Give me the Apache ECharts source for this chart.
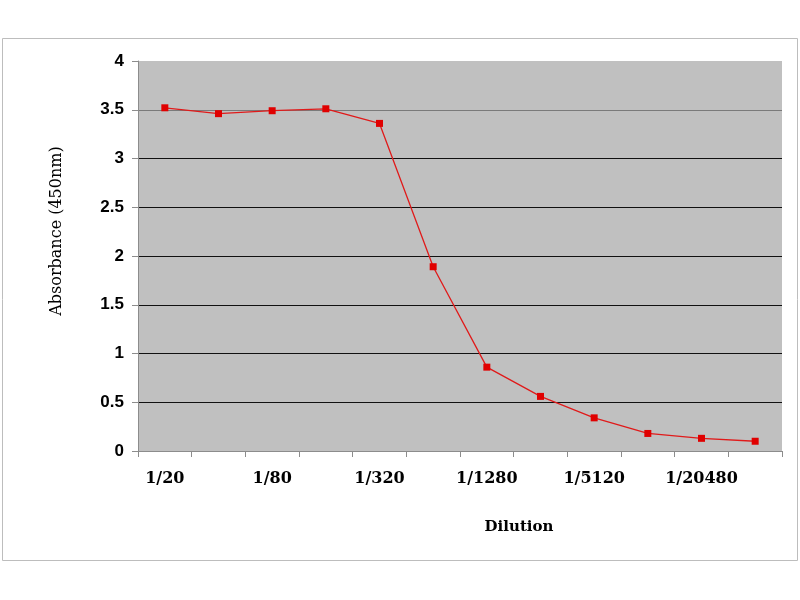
<!DOCTYPE html>
<html>
<head>
<meta charset="utf-8">
<script src="https://cdn.jsdelivr.net/npm/echarts@6/dist/echarts.min.js"></script>
<style>
  html, body { margin: 0; padding: 0; background: #fff; }
  #chart { width: 800px; height: 600px; }
</style>
</head>
<body>
<div id="chart"></div>
<script>
// dilution steps, two-fold
const dilutions = ['1/20', '1/40', '1/80', '1/160', '1/320', '1/640', '1/1280', '1/2560', '1/5120', '1/10240', '1/20480', '1/40960'];
// absorbance at 450nm
const absorbance = [3.52, 3.46, 3.49, 3.51, 3.36, 1.89, 0.86, 0.56, 0.34, 0.18, 0.13, 0.10];

const serif = 'DejaVu Serif';

const myChart = echarts.init(document.getElementById('chart'));

const option = {
    backgroundColor: '#ffffff',
    animation: false,
    grid: {
        left: 138,
        right: 18,
        top: 61,
        bottom: 149,
        show: true,
        backgroundColor: '#c0c0c0',
        borderWidth: 0
    },
    graphic: [
        {
            type: 'rect',
            shape: { x: 2.5, y: 38.5, width: 795, height: 522 },
            style: { fill: 'none', stroke: '#bdbdbd', lineWidth: 1 },
            z: -1
        },
        {
            type: 'text',
            x: 57,
            y: 231,
            rotation: Math.PI / 2,
            style: {
                text: 'Absorbance (450nm)',
                font: '16px "DejaVu Serif"',
                fill: '#000',
                align: 'center',
                verticalAlign: 'middle'
            }
        },
        {
            type: 'text',
            x: 519,
            y: 527,
            style: {
                text: 'Dilution',
                font: 'bold 15px "DejaVu Serif"',
                fill: '#000',
                align: 'center',
                verticalAlign: 'middle'
            }
        }
    ],
    xAxis: {
        type: 'category',
        data: dilutions,
        boundaryGap: true,
        axisLine: { lineStyle: { color: '#8c8c8c', width: 1 } },
        axisTick: { show: true, interval: 0, length: 6, lineStyle: { color: '#8c8c8c' } },
        axisLabel: {
            interval: 1,
            margin: 20,
            color: '#000',
            fontFamily: serif,
            fontWeight: 'bold',
            fontSize: 16
        },
        splitLine: { show: false }
    },
    yAxis: {
        type: 'value',
        min: 0,
        max: 4,
        interval: 0.5,
        axisLine: { show: true, lineStyle: { color: '#8c8c8c', width: 1 } },
        axisTick: { show: true, length: 6, lineStyle: { color: '#8c8c8c' } },
        axisLabel: {
            margin: 14,
            color: '#000',
            fontFamily: 'Liberation Sans',
            fontWeight: 'bold',
            fontSize: 17
        },
        splitLine: {
            show: true,
            lineStyle: {
                color: ['#8c8c8c', '#111', '#111', '#111', '#111', '#111', '#111', '#7a7a7a', 'rgba(0,0,0,0)'],
                width: 1
            }
        }
    },
    series: [{
        name: 'Absorbance',
        type: 'line',
        data: absorbance,
        symbol: 'rect',
        symbolSize: 7,
        lineStyle: { color: '#e01a1a', width: 1.3 },
        itemStyle: { color: '#e00000' }
    }]
};

myChart.setOption(option);
</script>
</body>
</html>
